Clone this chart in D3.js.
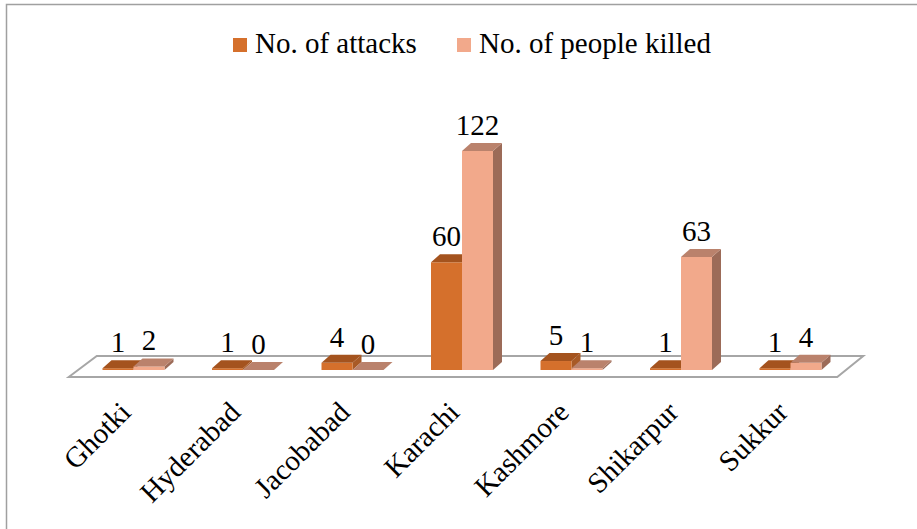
<!DOCTYPE html>
<html>
<head>
<meta charset="utf-8">
<script src="https://cdn.jsdelivr.net/npm/d3@7"></script>
<style>
  body { margin: 0; background: #fff; }
  .bar-chart text { font-family: "Liberation Serif", serif; }
</style>
</head>
<body>
<div class="bar-chart"></div>
<script>
// data
const districts = ["Ghotki", "Hyderabad", "Jacobabad", "Karachi", "Kashmore", "Shikarpur", "Sukkur"];
const attacks = [1, 1, 4, 60, 5, 1, 1];
const killed = [2, 0, 0, 122, 1, 63, 4];
const seriesNames = ["No. of attacks", "No. of people killed"];

const width = 917, height = 529;
const depthX = 9, depthY = 8;
const barW = 31;
const fontSize = 29;

const series = [
  {name: seriesNames[0], values: attacks, front: "#d5702c", top: "#a4531e", side: "#a85a26"},
  {name: seriesNames[1], values: killed, front: "#f2a98b", top: "#ba826c", side: "#9c6b58"}
];

const svg = d3.select(".bar-chart")
  .append("svg")
  .attr("width", width)
  .attr("height", height);

// outer frame (only top/left visible in picture)
svg.append("path")
  .attr("d", "M6.5,529 L6.5,4.5 L917,4.5")
  .attr("fill", "none")
  .attr("stroke", "#a0a0a0")
  .attr("stroke-width", 1.5);

let xScale = d3.scaleBand()
  .domain(districts)
  .range([78.75, 845.25]);

let yScale = d3.scaleLinear()
  .domain([0, 122])
  .range([370, 151]);

const base = yScale(0);

// floor
const x0 = xScale.range()[0], x1 = xScale.range()[1];
svg.append("polygon")
  .attr("points", [
    [x0 - 10, base + 7], [x0 + 18, base - 14],
    [x1 + 18, base - 14], [x1 - 8, base + 7]
  ].map(p => p.join(",")).join(" "))
  .attr("fill", "#fff")
  .attr("stroke", "#a6a6a6")
  .attr("stroke-width", 2);

// bars
series.forEach((s, si) => {
  const g = svg.append("g");
  const bx = d => xScale(d) + xScale.bandwidth() / 2 - barW + si * barW;
  districts.forEach((d, i) => {
    const x = bx(d), yt = yScale(s.values[i]);
    // side
    g.append("polygon")
      .attr("points", [[x + barW, yt], [x + barW + depthX, yt - depthY], [x + barW + depthX, base - depthY], [x + barW, base]].map(p => p.join(",")).join(" "))
      .attr("fill", s.side);
    // front
    g.append("rect")
      .attr("x", x).attr("y", yt)
      .attr("width", barW).attr("height", base - yt)
      .attr("fill", s.front);
    // top
    g.append("polygon")
      .attr("points", [[x, yt], [x + depthX, yt - depthY], [x + barW + depthX, yt - depthY], [x + barW, yt]].map(p => p.join(",")).join(" "))
      .attr("fill", s.top);
    // value label
    svg.append("text")
      .attr("x", x + barW / 2)
      .attr("y", yt - depthY - 8)
      .attr("text-anchor", "middle")
      .attr("font-size", fontSize)
      .text(s.values[i]);
  });
});

// category labels
districts.forEach(d => {
  const cx = xScale(d) + xScale.bandwidth() / 2 - 1;
  svg.append("text")
    .attr("transform", `translate(${cx},${base + 44}) rotate(-45)`)
    .attr("text-anchor", "end")
    .attr("font-size", fontSize)
    .text(d);
});

// legend
const legend = svg.append("g");
const legendX = [233, 457];
series.forEach((s, i) => {
  legend.append("rect")
    .attr("x", legendX[i]).attr("y", 38)
    .attr("width", 14).attr("height", 14)
    .attr("fill", s.front);
  legend.append("text")
    .attr("x", legendX[i] + 22).attr("y", 53)
    .attr("font-size", fontSize)
    .text(s.name);
});
</script>
</body>
</html>
